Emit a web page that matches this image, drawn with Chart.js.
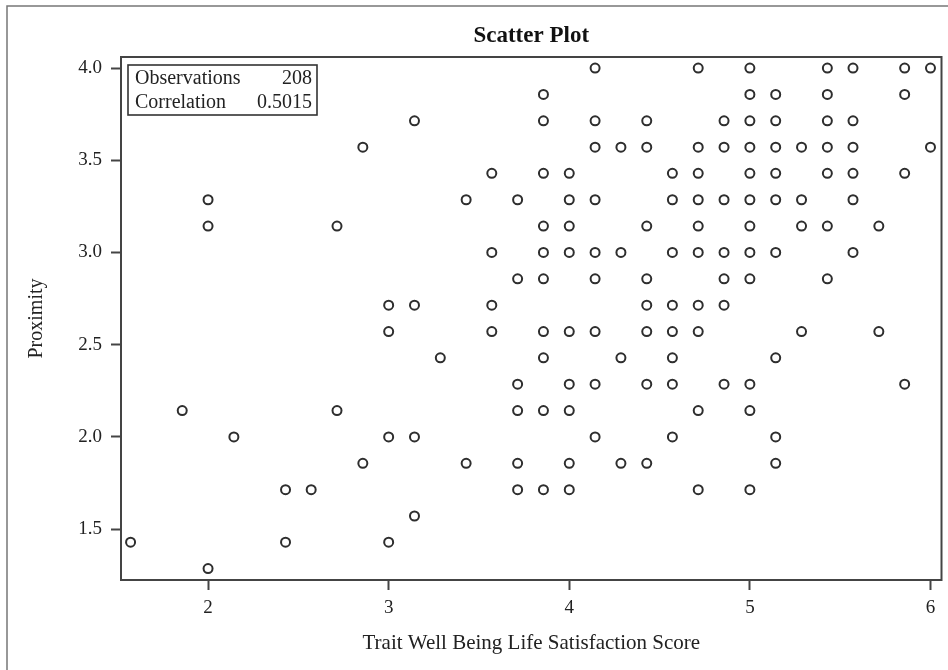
<!DOCTYPE html>
<html><head><meta charset="utf-8">
<script src="https://cdn.jsdelivr.net/npm/chart.js@4/dist/chart.umd.min.js"></script>
<style>html,body{margin:0;padding:0;background:#fff}#wrap{width:948px;height:670px;position:relative}</style>
</head><body><div id="wrap"><canvas id="c" width="948" height="670"></canvas></div>
<script>
// Trait Well Being Life Satisfaction Score (x) and Proximity (y), one entry per visible marker
const satisfaction = [
  1.571,
  1.857,
  2.000, 2.000, 2.000,
  2.143,
  2.429, 2.429,
  2.571,
  2.714, 2.714,
  2.857, 2.857,
  3.000, 3.000, 3.000, 3.000,
  3.143, 3.143, 3.143, 3.143,
  3.286,
  3.429, 3.429,
  3.571, 3.571, 3.571, 3.571,
  3.714, 3.714, 3.714, 3.714, 3.714, 3.714,
  3.857, 3.857, 3.857, 3.857, 3.857, 3.857, 3.857, 3.857, 3.857, 3.857,
  4.000, 4.000, 4.000, 4.000, 4.000, 4.000, 4.000, 4.000, 4.000,
  4.143, 4.143, 4.143, 4.143, 4.143, 4.143, 4.143, 4.143, 4.143,
  4.286, 4.286, 4.286, 4.286,
  4.429, 4.429, 4.429, 4.429, 4.429, 4.429, 4.429, 4.429,
  4.571, 4.571, 4.571, 4.571, 4.571, 4.571, 4.571, 4.571,
  4.714, 4.714, 4.714, 4.714, 4.714, 4.714, 4.714, 4.714, 4.714, 4.714,
  4.857, 4.857, 4.857, 4.857, 4.857, 4.857, 4.857,
  5.000, 5.000, 5.000, 5.000, 5.000, 5.000, 5.000, 5.000, 5.000, 5.000, 5.000, 5.000,
  5.143, 5.143, 5.143, 5.143, 5.143, 5.143, 5.143, 5.143, 5.143,
  5.286, 5.286, 5.286, 5.286,
  5.429, 5.429, 5.429, 5.429, 5.429, 5.429, 5.429,
  5.571, 5.571, 5.571, 5.571, 5.571, 5.571,
  5.714, 5.714,
  5.857, 5.857, 5.857, 5.857,
  6.000, 6.000
];
const proximity = [
  1.429,
  2.143,
  3.286, 3.143, 1.286,
  2.000,
  1.714, 1.429,
  1.714,
  3.143, 2.143,
  3.571, 1.857,
  2.714, 2.571, 2.000, 1.429,
  3.714, 2.714, 2.000, 1.571,
  2.429,
  3.286, 1.857,
  3.429, 3.000, 2.714, 2.571,
  3.286, 2.857, 2.286, 2.143, 1.857, 1.714,
  3.857, 3.714, 3.429, 3.143, 3.000, 2.857, 2.571, 2.429, 2.143, 1.714,
  3.429, 3.286, 3.143, 3.000, 2.571, 2.286, 2.143, 1.857, 1.714,
  4.000, 3.714, 3.571, 3.286, 3.000, 2.857, 2.571, 2.286, 2.000,
  3.571, 3.000, 2.429, 1.857,
  3.714, 3.571, 3.143, 2.857, 2.714, 2.571, 2.286, 1.857,
  3.429, 3.286, 3.000, 2.714, 2.571, 2.429, 2.286, 2.000,
  4.000, 3.571, 3.429, 3.286, 3.143, 3.000, 2.714, 2.571, 2.143, 1.714,
  3.714, 3.571, 3.286, 3.000, 2.857, 2.714, 2.286,
  4.000, 3.857, 3.714, 3.571, 3.429, 3.286, 3.143, 3.000, 2.857, 2.286, 2.143, 1.714,
  3.857, 3.714, 3.571, 3.429, 3.286, 3.000, 2.429, 2.000, 1.857,
  3.571, 3.286, 3.143, 2.571,
  4.000, 3.857, 3.714, 3.571, 3.429, 3.143, 2.857,
  4.000, 3.714, 3.571, 3.429, 3.286, 3.000,
  3.143, 2.571,
  4.000, 3.857, 3.429, 2.286,
  4.000, 3.571
];
const xTicks = [2, 3, 4, 5, 6];
const yTicks = [1.5, 2.0, 2.5, 3.0, 3.5, 4.0];
const chartTitle = 'Scatter Plot';
const xTitle = 'Trait Well Being Life Satisfaction Score';
const yTitle = 'Proximity';
const statLabels = ['Observations', 'Correlation'];
const statValues = ['208', '0.5015'];

const FONT = 'Liberation Serif, Times New Roman, serif';
Chart.defaults.font.family = FONT;
Chart.defaults.color = '#222';

const points = satisfaction.map((x, i) => ({ x: x, y: proximity[i] }));
const AXIS = '#444';

const framePlugin = {
  id: 'frame',
  beforeDraw(chart) {
    const ctx = chart.ctx;
    ctx.save();
    ctx.strokeStyle = '#777';
    ctx.lineWidth = 1.5;
    ctx.beginPath();
    ctx.moveTo(7, 670); ctx.lineTo(7, 6); ctx.lineTo(948, 6);
    ctx.stroke();
    ctx.restore();
  },
  afterDraw(chart) {
    const ctx = chart.ctx;
    const a = chart.chartArea;
    ctx.save();
    ctx.strokeStyle = AXIS;
    ctx.lineWidth = 2;
    ctx.strokeRect(a.left, a.top, a.right - a.left, a.bottom - a.top);
    // statistics inset
    const bx = a.left + 7, by = a.top + 8, bw = 189, bh = 50;
    ctx.lineWidth = 1.6;
    ctx.strokeStyle = '#333';
    ctx.strokeRect(bx, by, bw, bh);
    ctx.fillStyle = '#222';
    ctx.font = '20px ' + FONT;
    ctx.textBaseline = 'alphabetic';
    statLabels.forEach((t, i) => {
      const yy = by + 19 + i * 24;
      ctx.textAlign = 'left';
      ctx.fillText(t, bx + 7, yy);
      ctx.textAlign = 'right';
      ctx.fillText(statValues[i], bx + bw - 5, yy);
    });
    ctx.restore();
  }
};

new Chart(document.getElementById('c'), {
  type: 'scatter',
  data: {
    datasets: [{
      data: points,
      pointStyle: 'circle',
      pointRadius: 4.5,
      pointHoverRadius: 4.5,
      pointBorderWidth: 2,
      borderColor: '#2e2e2e',
      backgroundColor: 'rgba(0,0,0,0)'
    }]
  },
  options: {
    responsive: false,
    animation: false,
    events: [],
    layout: { padding: { left: 0, right: 6, top: 0, bottom: 0 } },
    plugins: {
      legend: { display: false },
      tooltip: { enabled: false },
      title: {
        display: true,
        text: chartTitle,
        fullSize: false,
        color: '#111',
        font: { family: FONT, size: 23, weight: 'bold', lineHeight: 1.2 },
        padding: { top: 22, bottom: 7.4 }
      }
    },
    scales: {
      x: {
        type: 'linear',
        min: 1.518,
        max: 6.061,
        afterBuildTicks: s => { s.ticks = xTicks.map(v => ({ value: v })); },
        afterFit: s => { s.height = 90; },
        ticks: { font: { size: 19 }, color: '#222', padding: 7, maxRotation: 0, callback: v => String(v) },
        grid: { display: true, drawOnChartArea: false, drawTicks: true, tickLength: 10, tickColor: AXIS, tickWidth: 2 },
        border: { display: false },
        title: { display: true, text: xTitle, color: '#222', font: { size: 21, lineHeight: 1.2 }, padding: { top: 0, bottom: 14 } }
      },
      y: {
        type: 'linear',
        min: 1.224,
        max: 4.06,
        afterBuildTicks: s => { s.ticks = yTicks.map(v => ({ value: v })); },
        afterFit: s => { s.width = 121; },
        ticks: { font: { size: 19 }, color: '#222', padding: 9, callback: v => Number(v).toFixed(1) },
        grid: { display: true, drawOnChartArea: false, drawTicks: true, tickLength: 10, tickColor: AXIS, tickWidth: 2 },
        border: { display: false },
        title: { display: true, text: yTitle, color: '#222', font: { size: 20, lineHeight: 1.2 }, padding: { top: 25, bottom: 0 } }
      }
    }
  },
  plugins: [framePlugin]
});
</script>
</body></html>
